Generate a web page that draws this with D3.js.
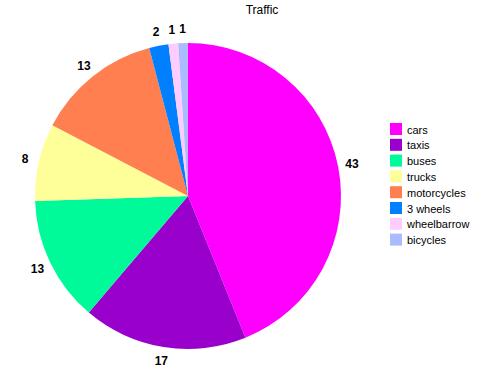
<!DOCTYPE html>
<html>
<head>
<meta charset="utf-8">
<script src="https://cdn.jsdelivr.net/npm/d3@7"></script>
<style>
  body { margin: 0; background: #fff; }
  text { font-family: "Liberation Sans", Arial, sans-serif; }
</style>
</head>
<body>
<svg width="479" height="367"></svg>
<script>
var categories = ["cars", "taxis", "buses", "trucks", "motorcycles", "3 wheels", "wheelbarrow", "bicycles"];
var values = [43, 17, 13, 8, 13, 2, 1, 1];
var colors = ["#ff00ff", "#9900cc", "#00fa9a", "#ffff99", "#ff7f50", "#0080ff", "#ffccff", "#aabbff"];

var svg = d3.select("svg"),
    cx = 188, cy = 196, r = 153;

var color = d3.scaleOrdinal().domain(categories).range(colors);

var pie = d3.pie().sort(null).value(function (d) { return d.value; });
var data = categories.map(function (c, i) { return { name: c, value: values[i] }; });
var arcs = pie(data);

var arc = d3.arc().innerRadius(0).outerRadius(r);
var labelArc = d3.arc().innerRadius(r + 14).outerRadius(r + 14);

var g = svg.append("g").attr("transform", "translate(" + cx + "," + cy + ")");

g.selectAll("path").data(arcs).enter().append("path")
  .attr("d", arc)
  .attr("fill", function (d) { return color(d.data.name); });

g.selectAll("text.lbl").data(arcs).enter().append("text")
  .attr("class", "lbl")
  .attr("transform", function (d) { return "translate(" + labelArc.centroid(d) + ")"; })
  .attr("text-anchor", "middle")
  .attr("dy", "0.35em")
  .style("font-size", "12px")
  .style("font-weight", "bold")
  .text(function (d) { return d.data.value; });

svg.append("text")
  .attr("x", 262).attr("y", 14)
  .attr("text-anchor", "middle")
  .style("font-size", "12px")
  .text("Traffic");

// legend
var legend = svg.append("g").attr("transform", "translate(390,123)");
var row = legend.selectAll("g").data(categories).enter().append("g")
  .attr("transform", function (d, i) { return "translate(0," + (i * 15.8) + ")"; });
row.append("rect").attr("width", 12).attr("height", 12)
  .attr("fill", function (d) { return color(d); });
row.append("text").attr("x", 17).attr("y", 10.5)
  .style("font-size", "11px")
  .text(function (d) { return d; });
</script>
</body>
</html>
